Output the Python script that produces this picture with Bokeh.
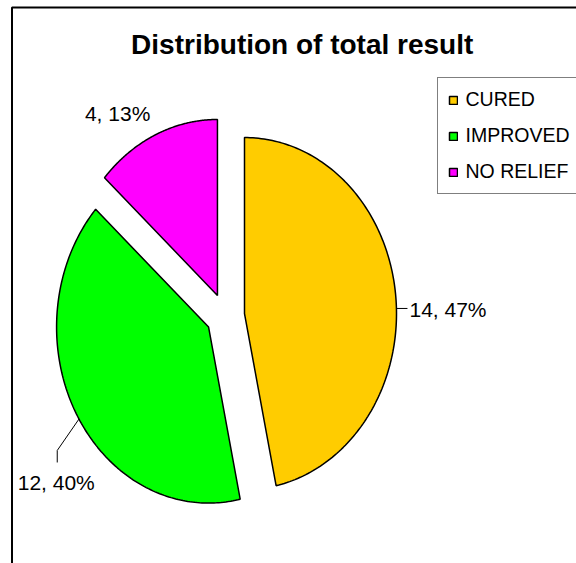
import numpy as np
from bokeh.plotting import figure
from bokeh.models import Range1d, Legend, LegendItem, ColumnDataSource
from bokeh.core.properties import value
from bokeh.embed import file_html
from bokeh.resources import INLINE

# --- data -------------------------------------------------------------
title_text = "Distribution of total result"
categories = ["CURED", "IMPROVED", "NO RELIEF"]
counts = [14, 12, 4]
colors = ["#FFCC00", "#00FF00", "#FF00FF"]

# --- layout (pixel-like data space, y grows downward) ------------------
W, H = 576, 563
CX, CY = 224.8, 315.4        # pie centre
RX, RY = 152.0, 176.0        # pie radii (drawn as an upright ellipse)
EXPLODE = 0.127              # slice pull-out, fraction of radius
FONT = "Liberation Sans"
LABEL_PX = "21px"

p = figure(width=W, height=H, output_backend="svg", toolbar_location=None,
           x_range=Range1d(0, W), y_range=Range1d(H, 0),
           min_border=0, outline_line_color=None)
p.axis.visible = False
p.grid.visible = False
p.background_fill_color = "white"
p.border_fill_color = "white"

# chart-area border (top and left edges)
p.line([11.5, 11.5, W + 5], [H + 5, 7, 7], line_color="black", line_width=2)

total = float(sum(counts))
frac = np.array(counts, dtype=float) / total
ends = np.cumsum(frac) * 2 * np.pi
starts = ends - frac * 2 * np.pi
mids = (starts + ends) / 2


def vertex(i):
    return (CX + EXPLODE * RX * np.sin(mids[i]),
            CY - EXPLODE * RY * np.cos(mids[i]))


def arc_point(i, theta):
    vx, vy = vertex(i)
    return vx + RX * np.sin(theta), vy - RY * np.cos(theta)


xs, ys = [], []
for i in range(len(counts)):
    vx, vy = vertex(i)
    t = np.linspace(starts[i], ends[i], 160)
    ax, ay = arc_point(i, t)
    xs.append(np.concatenate([[vx], ax, [vx]]))
    ys.append(np.concatenate([[vy], ay, [vy]]))

src = ColumnDataSource(dict(xs=xs, ys=ys, color=colors, name=categories))
r = p.patches("xs", "ys", source=src, fill_color="color",
              line_color="black", line_width=1.5)

# --- data labels ------------------------------------------------------
labels = [f"{c}, {round(100 * c / total)}%" for c in counts]
# label centre placement relative to the mid-angle point of each slice's rim
label_dx = [13.8, -20.7, -38.0]
label_dy = [14.3, 67.4, -21.0]
label_align = ["left", "center", "center"]

lx, ly = [], []
for i in range(len(counts)):
    mx, my = arc_point(i, mids[i])
    lx.append(mx + label_dx[i])
    ly.append(my + label_dy[i])

for i in range(len(counts)):
    p.text([lx[i]], [ly[i]], text=[labels[i]], text_font=value(FONT),
           text_font_size=LABEL_PX, text_color="black",
           text_align=label_align[i], text_baseline="middle")

# leader lines
# CURED: short horizontal tick from the rim to the label
y0 = ly[0] - 1
t = np.linspace(starts[0], ends[0], 400)
ax, ay = arc_point(0, t)
k = int(np.argmin(np.abs(ay - y0) + (ax < CX) * 1e3))
p.line([ax[k], lx[0] - 2], [y0, y0], line_color="black", line_width=1)
# IMPROVED: elbow from the rim down to the label
gx, gy = arc_point(1, mids[1] - np.radians(1.5))
p.line([gx, lx[1] + 1, lx[1] + 1], [gy, ly[1] - 32, ly[1] - 20],
       line_color="black", line_width=1)

# --- title --------------------------------------------------------------
p.text([301.7], [43.8], text=[title_text], text_font=value(FONT),
       text_font_size="28px", text_font_style="bold", text_color="black",
       text_align="center", text_baseline="middle")

# --- legend -------------------------------------------------------------
items = [LegendItem(label=categories[i], renderers=[r], index=i)
         for i in range(len(categories))]
legend = Legend(items=items, location=(436.5, H - 194),
                glyph_width=10, glyph_height=10, label_standoff=8,
                label_height=22, spacing=13, padding=10, margin=0,
                label_text_font=FONT, label_text_font_size="19.5px",
                label_text_color="black",
                border_line_color="black", border_line_width=1.5,
                background_fill_color="white", background_fill_alpha=1.0)
p.add_layout(legend)

open("out.html", "w").write(file_html(p, INLINE))
